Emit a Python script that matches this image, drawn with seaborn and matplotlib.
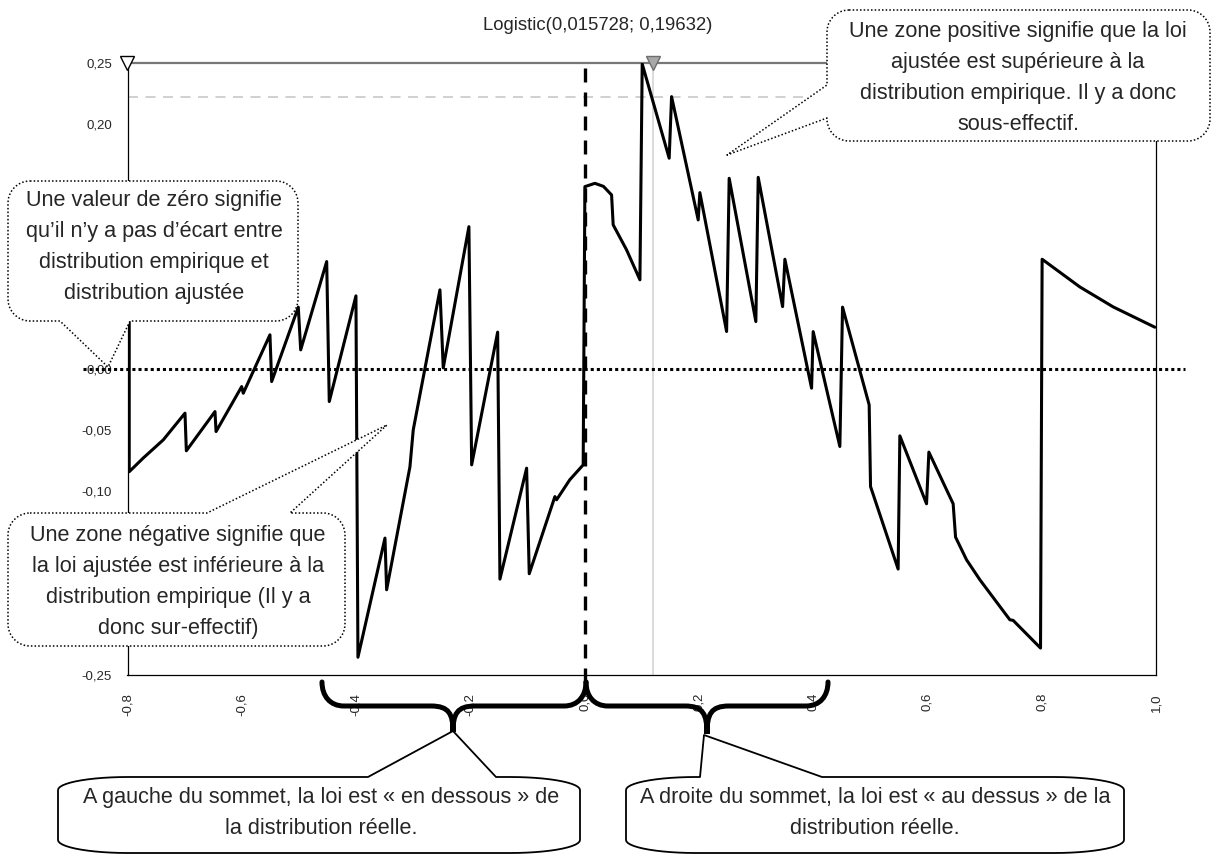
import numpy as np
import pandas as pd
import matplotlib
matplotlib.use("Agg")
import matplotlib.pyplot as plt
from matplotlib.patches import Polygon, PathPatch
from matplotlib.path import Path
import seaborn as sns

# Ecart entre loi ajustée et distribution empirique
ecart_x = [-0.797, -0.797, -0.7724, -0.7374, -0.6994, -0.697, -0.6469, -0.645,
           -0.6002, -0.5974, -0.5507, -0.5477, -0.5011, -0.4969, -0.4514, -0.4469,
           -0.4002, -0.3967, -0.3494, -0.3465, -0.3057, -0.2999, -0.2532, -0.2474,
           -0.2025, -0.1977, -0.1522, -0.1482, -0.1015, -0.0969, -0.052, -0.049,
           -0.026, -0.0025, 0.0005, 0.018, 0.033, 0.0472, 0.05, 0.0735,
           0.0968, 0.1008, 0.148, 0.1522, 0.1988, 0.2017, 0.2485, 0.253,
           0.2997, 0.3038, 0.3465, 0.3505, 0.3972, 0.400, 0.4467, 0.4514,
           0.498, 0.5004, 0.5487, 0.5517, 0.5984, 0.6025, 0.645, 0.6492,
           0.6684, 0.6917, 0.7442, 0.75, 0.7979, 0.8007, 0.8667, 0.925, 0.998]
ecart_y = [0.038, -0.084, -0.0728, -0.058, -0.0362, -0.0669, -0.0349, -0.0512,
           -0.0145, -0.0199, 0.0278, -0.0104, 0.0504, 0.0155, 0.0876, -0.0267,
           0.0596, -0.2355, -0.1382, -0.1804, -0.0800, -0.0498, 0.0645, 0.0008,
           0.1161, -0.0784, 0.0300, -0.1717, -0.0811, -0.1673, -0.1043, -0.1069,
           -0.0906, -0.0784, 0.1488, 0.1515, 0.1490, 0.1420, 0.1176, 0.0971,
           0.0727, 0.2490, 0.1720, 0.2223, 0.1216, 0.1439, 0.0305, 0.1556,
           0.0386, 0.1564, 0.0508, 0.0895, -0.0158, 0.0304, -0.0634, 0.0504,
           -0.0294, -0.0961, -0.1635, -0.0547, -0.1102, -0.0680, -0.1102, -0.1374,
           -0.1559, -0.1722, -0.2049, -0.2054, -0.2280, 0.0895, 0.0669, 0.0506, 0.0340]

y_ticks = [-0.25, -0.20, -0.15, -0.10, -0.05, 0.0, 0.05, 0.10, 0.15, 0.20, 0.25]
# les étiquettes cachées par les bulles restent vides
y_labels = ["-0,25", "", "", "-0,10", "-0,05", "0,00", "", "", "", "0,20", "0,25"]
x_ticks = [-0.8, -0.6, -0.4, -0.2, 0.0, 0.2, 0.4, 0.6, 0.8, 1.0]
x_labels = ["-0,8", "-0,6", "-0,4", "-0,2", "0,0", "0,2", "0,4", "0,6", "0,8", "1,0"]

titre = "Logistic(0,015728; 0,19632)"
sommet_x = 0.119
seuil_y = 0.2217

txt_zero = "Une valeur de zéro signifie\nqu’il n’y a pas d’écart entre\ndistribution empirique et\ndistribution ajustée"
txt_neg = "Une zone négative signifie que\nla loi ajustée est inférieure à la\ndistribution empirique (Il y a\ndonc sur-effectif)"
txt_pos = "Une zone positive signifie que la loi\najustée est supérieure à la\ndistribution empirique. Il y a donc\nsous-effectif."
txt_gauche = "A gauche du sommet, la loi est « en dessous » de\nla distribution réelle."
txt_droite = "A droite du sommet, la loi est « au dessus » de la\ndistribution réelle."

sns.set_style("white")
plt.rcParams['font.family'] = ['Liberation Sans', 'DejaVu Sans']

fig = plt.figure(figsize=(12.13, 8.56), dpi=100)
ax = fig.add_axes([127.5 / 1213, 1 - 675 / 856, 1028.5 / 1213, 612.3 / 856])

df = pd.DataFrame({"x": ecart_x, "ecart": ecart_y})
sns.lineplot(data=df, x="x", y="ecart", sort=False, estimator=None,
             color="black", lw=2.2, ax=ax, zorder=5)

ax.set_xlim(-0.8, 1.0)
ax.set_ylim(-0.25, 0.25)
ax.set_xlabel("")
ax.set_ylabel("")
ax.set_yticks(y_ticks)
ax.set_yticklabels(y_labels)
ax.set_xticks(x_ticks)
ax.set_xticklabels(x_labels, rotation=90)
ax.tick_params(axis="y", direction="inout", length=21.6, width=0.9, labelsize=9.5, pad=0.5, color="black")
ax.tick_params(axis="x", direction="in", length=10, width=0.9, labelsize=9.5, pad=13, color="black")
for s in ["left", "right", "bottom"]:
    ax.spines[s].set_color("black")
    ax.spines[s].set_linewidth(0.9)
ax.spines["top"].set_color("#777777")
ax.spines["top"].set_linewidth(1.6)

# lignes de référence
ax.axhline(0, xmin=-0.0433, xmax=1.028, color="black", lw=2.2, ls=(0, (1, 1)), clip_on=False, zorder=4)
ax.plot([0, 0], [-0.2555, 0.25], color="black", lw=2.4, ls=(0, (4.2, 3)), clip_on=False, zorder=4)
ax.axvline(sommet_x, color="#d4d4d4", lw=1.2, zorder=2)
ax.axhline(seuil_y, color="#c8c8c8", lw=1.2, ls=(0, (6, 4.5)), zorder=2)
ax.plot([-0.8], [0.25], marker="v", ms=10, mfc="white", mec="black", mew=1, clip_on=False, zorder=6)
ax.plot([sommet_x], [0.25], marker="v", ms=10, mfc="#a8a8a8", mec="#6e6e6e", mew=1, clip_on=False, zorder=6)

# couche d'annotations en pixels
ov = fig.add_axes([0, 0, 1, 1])
ov.set_xlim(0, 1213)
ov.set_ylim(856, 0)
ov.axis("off")
ov.patch.set_alpha(0)


def bulle(x0, y0, x1, y1, rx, ry, side, b0, b1, tip, ls, lw):
    def arc(cx, cy, t0, t1):
        t = np.radians(np.linspace(t0, t1, 14))
        return list(zip(cx + rx * np.cos(t), cy + ry * np.sin(t)))
    v = [(x0 + rx, y0)]
    if side == "top":
        v += [(b0, y0), tip, (b1, y0)]
    v += arc(x1 - rx, y0 + ry, -90, 0)
    v += arc(x1 - rx, y1 - ry, 0, 90)
    if side == "bottom":
        v += [(b1, y1), tip, (b0, y1)]
    v += arc(x0 + rx, y1 - ry, 90, 180)
    if side == "left":
        v += [(x0, b1), tip, (x0, b0)]
    v += arc(x0 + rx, y0 + ry, 180, 270)
    ov.add_patch(Polygon(v, closed=True, fc="white", ec="black", lw=lw, ls=ls, joinstyle="round"))


pointille = (0, (1, 1.4))
bulle(8, 181, 298, 321, 22, 22, "bottom", 60, 130, (108, 367), pointille, 1.1)
bulle(8, 513, 345, 646, 22, 22, "top", 207, 290, (387, 425), pointille, 1.1)
bulle(827, 10, 1210, 141, 22, 22, "left", 85, 118, (727, 155), pointille, 1.1)
bulle(58, 777, 580, 853, 70, 13, "top", 368, 496, (453, 731), "-", 1.3)
bulle(626, 777, 1124, 853, 70, 13, "top", 700, 822, (704, 735), "-", 1.3)

kw = dict(ha="center", va="center", fontsize=15.6, linespacing=1.62)
ov.text(154, 247, txt_zero, **kw)
ov.text(178, 582, txt_neg, **kw)
ov.text(1018, 78, txt_pos, **kw)
ov.text(321, 813, txt_gauche, **kw)
ov.text(875, 813, txt_droite, **kw)


def accolade(xa, xb, xt, yt, y0=682, yh=706):
    verts = [(xa, y0), (xa, yh - 10), (xa + 8, yh), (xa + 22, yh),
             (xt - 22, yh), (xt - 4, yh), (xt, yh + 8), (xt, yt),
             (xt, yh + 8), (xt + 4, yh), (xt + 22, yh),
             (xb - 22, yh), (xb - 8, yh), (xb, yh - 10), (xb, y0)]
    codes = [Path.MOVETO, Path.CURVE4, Path.CURVE4, Path.CURVE4,
             Path.LINETO, Path.CURVE4, Path.CURVE4, Path.CURVE4,
             Path.CURVE4, Path.CURVE4, Path.CURVE4,
             Path.LINETO, Path.CURVE4, Path.CURVE4, Path.CURVE4]
    ov.add_patch(PathPatch(Path(verts, codes), fc="none", ec="black", lw=3.6, capstyle="round"))


accolade(322, 586, 453, 732)
accolade(586, 828, 707, 734)

fig.text(598 / 1213, 1 - 25 / 856, titre, ha="center", va="center", fontsize=13.3)

fig.savefig("out.png", dpi=100)
